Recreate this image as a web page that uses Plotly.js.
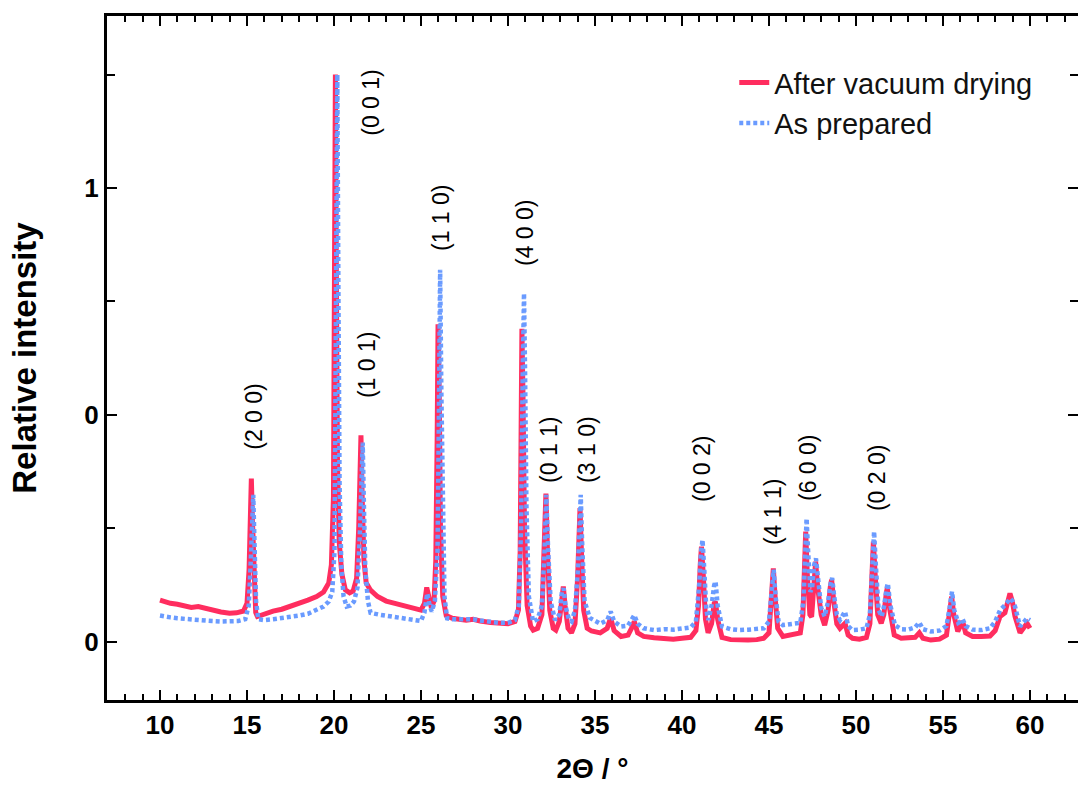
<!DOCTYPE html>
<html>
<head>
<meta charset="utf-8">
<script src="https://cdn.plot.ly/plotly-3.0.1.min.js"></script>
<style>html,body{margin:0;padding:0;background:#fff;}#chart{width:1078px;height:790px;}</style>
</head>
<body>
<div id="chart"></div>
<script>
// After vacuum drying
const xDried = [10.0,10.3,10.6,11.0,11.4,11.8,12.2,12.7,13.1,13.5,14.0,14.4,14.8,15.0,15.12,15.2,15.25,15.32,15.4,15.5,15.6,16.0,16.5,17.0,17.5,18.0,18.5,19.0,19.4,19.7,19.85,19.97,20.03,20.08,20.13,20.2,20.3,20.45,20.65,20.9,21.1,21.3,21.42,21.5,21.55,21.62,21.72,21.85,22.1,22.5,23.0,23.5,24.0,24.5,25.0,25.2,25.33,25.45,25.6,25.75,25.85,25.93,25.98,26.05,26.12,26.25,26.45,26.8,27.2,27.6,28.0,28.4,29.0,29.5,30.0,30.4,30.6,30.7,30.76,30.8,30.86,30.95,31.1,31.3,31.45,31.7,31.95,32.08,32.18,32.27,32.4,32.6,32.75,32.95,33.1,33.18,33.28,33.45,33.65,33.85,34.0,34.1,34.14,34.22,34.35,34.55,34.8,35.3,35.7,35.9,36.1,36.5,36.9,37.1,37.26,37.45,37.8,38.4,39.0,39.5,40.0,40.5,40.8,40.95,41.05,41.12,41.22,41.35,41.5,41.7,41.85,41.92,42.05,42.3,42.8,43.3,43.8,44.3,44.7,45.0,45.15,45.25,45.35,45.5,45.8,46.3,46.8,46.95,47.05,47.11,47.2,47.35,47.45,47.58,47.68,47.8,48.0,48.2,48.4,48.52,48.6,48.72,48.9,49.08,49.25,49.37,49.55,49.8,50.2,50.6,50.8,50.92,51.0,51.1,51.25,51.45,51.6,51.75,51.8,51.95,52.2,52.6,53.0,53.4,53.64,53.85,54.3,54.8,55.2,55.38,55.5,55.62,55.85,56.0,56.13,56.3,56.7,57.2,57.7,58.0,58.28,58.56,58.75,58.85,58.98,59.14,59.43,59.65,59.83,60.0];
const yDried = [0.092,0.088,0.085,0.083,0.080,0.076,0.078,0.073,0.068,0.066,0.063,0.064,0.068,0.085,0.16,0.30,0.36,0.26,0.12,0.065,0.056,0.062,0.068,0.072,0.078,0.086,0.092,0.100,0.110,0.130,0.17,0.32,0.8,1.25,0.85,0.40,0.22,0.15,0.115,0.108,0.112,0.14,0.25,0.44,0.455,0.32,0.18,0.13,0.114,0.10,0.090,0.085,0.080,0.076,0.070,0.085,0.12,0.10,0.075,0.09,0.18,0.45,0.70,0.55,0.25,0.10,0.058,0.052,0.050,0.048,0.050,0.046,0.043,0.041,0.040,0.045,0.07,0.2,0.5,0.69,0.55,0.25,0.08,0.035,0.026,0.03,0.06,0.18,0.327,0.2,0.07,0.03,0.026,0.045,0.1,0.122,0.08,0.03,0.02,0.04,0.14,0.28,0.295,0.2,0.07,0.03,0.024,0.02,0.03,0.053,0.025,0.012,0.015,0.03,0.045,0.02,0.012,0.009,0.007,0.006,0.008,0.01,0.025,0.08,0.17,0.21,0.15,0.05,0.02,0.04,0.085,0.089,0.05,0.01,0.005,0.004,0.004,0.005,0.008,0.02,0.1,0.162,0.1,0.03,0.012,0.015,0.02,0.06,0.18,0.243,0.15,0.06,0.055,0.15,0.177,0.12,0.06,0.037,0.07,0.12,0.137,0.09,0.04,0.03,0.038,0.041,0.015,0.008,0.006,0.01,0.04,0.15,0.221,0.15,0.06,0.041,0.06,0.11,0.118,0.07,0.015,0.008,0.008,0.01,0.02,0.008,0.004,0.006,0.015,0.06,0.10,0.06,0.023,0.035,0.045,0.02,0.012,0.012,0.013,0.025,0.056,0.064,0.09,0.107,0.09,0.056,0.02,0.03,0.041,0.03];

// As prepared
const xPrepared = [10.0,10.3,10.6,11.0,11.5,12.0,12.5,13.0,13.5,14.0,14.5,14.9,15.1,15.22,15.3,15.36,15.43,15.52,15.65,16.0,16.5,17.0,17.5,18.0,18.5,19.0,19.4,19.7,19.9,20.03,20.1,20.19,20.25,20.32,20.42,20.55,20.73,20.95,21.15,21.35,21.5,21.6,21.65,21.72,21.8,21.95,22.1,22.6,23.0,23.5,24.0,24.5,25.0,25.2,25.36,25.5,25.62,25.8,25.95,26.03,26.1,26.17,26.25,26.35,26.5,26.8,27.2,27.6,28.0,28.4,29.0,29.5,30.0,30.4,30.62,30.75,30.85,30.92,30.98,31.06,31.2,31.44,31.7,31.95,32.1,32.2,32.3,32.45,32.7,32.95,33.1,33.2,33.3,33.5,33.66,33.85,34.02,34.12,34.18,34.26,34.4,34.7,35.0,35.3,35.7,35.9,36.1,36.5,36.9,37.1,37.26,37.45,37.8,38.4,39.0,39.5,40.0,40.5,40.8,40.98,41.1,41.18,41.28,41.4,41.52,41.7,41.85,41.93,42.05,42.3,42.8,43.3,43.8,44.3,44.7,45.0,45.15,45.27,45.38,45.55,45.8,46.3,46.8,46.98,47.08,47.16,47.25,47.38,47.48,47.6,47.7,47.82,48.0,48.2,48.4,48.55,48.63,48.75,48.9,49.08,49.25,49.37,49.55,49.8,50.2,50.6,50.8,50.95,51.04,51.14,51.3,51.48,51.62,51.77,51.83,51.98,52.24,52.6,53.0,53.4,53.64,53.85,54.3,54.8,55.2,55.38,55.52,55.65,55.88,56.0,56.13,56.3,56.7,57.2,57.7,58.0,58.28,58.56,58.75,58.88,59.0,59.14,59.43,59.65,59.83,60.0];
const yPrepared = [0.058,0.055,0.054,0.052,0.05,0.049,0.048,0.046,0.045,0.045,0.046,0.05,0.08,0.18,0.29,0.324,0.22,0.09,0.05,0.048,0.05,0.052,0.054,0.058,0.062,0.07,0.078,0.089,0.11,0.2,0.55,1.25,0.8,0.35,0.17,0.10,0.078,0.08,0.089,0.12,0.25,0.42,0.439,0.3,0.16,0.09,0.064,0.06,0.058,0.056,0.052,0.05,0.046,0.065,0.107,0.08,0.067,0.09,0.2,0.5,0.82,0.55,0.25,0.1,0.052,0.05,0.05,0.051,0.05,0.047,0.044,0.042,0.042,0.048,0.08,0.25,0.6,0.768,0.6,0.3,0.1,0.045,0.05,0.08,0.2,0.324,0.21,0.09,0.048,0.06,0.11,0.118,0.08,0.05,0.045,0.07,0.16,0.3,0.324,0.22,0.09,0.053,0.045,0.04,0.048,0.067,0.045,0.034,0.036,0.048,0.059,0.04,0.03,0.026,0.028,0.027,0.03,0.032,0.045,0.12,0.2,0.225,0.16,0.07,0.048,0.08,0.125,0.133,0.08,0.034,0.028,0.026,0.027,0.028,0.03,0.045,0.11,0.159,0.1,0.045,0.037,0.04,0.042,0.09,0.2,0.272,0.2,0.11,0.12,0.17,0.184,0.13,0.075,0.056,0.09,0.13,0.141,0.1,0.06,0.048,0.06,0.067,0.035,0.026,0.027,0.03,0.06,0.18,0.243,0.17,0.07,0.056,0.08,0.12,0.129,0.08,0.037,0.028,0.027,0.032,0.043,0.028,0.023,0.025,0.035,0.075,0.111,0.07,0.042,0.045,0.05,0.035,0.027,0.026,0.03,0.045,0.07,0.081,0.09,0.096,0.09,0.078,0.034,0.045,0.052,0.048];

// Reflection labels
const hklText = ['(2 0 0)','(0 0 1)','(1 0 1)','(1 1 0)','(4 0 0)','(0 1 1)','(3 1 0)','(0 0 2)','(4 1 1)','(6 0 0)','(0 2 0)'];
const hklX = [15.40,22.13,21.90,26.15,30.98,32.36,34.54,41.15,45.23,47.24,51.21];
const hklY = [0.496,1.188,0.610,0.934,0.901,0.423,0.423,0.381,0.286,0.383,0.361];

// Axis ticks
const yTickVals = [0, 0.5, 1];
const yTickText = ['0', '0', '1'];
const yMinorVals = [0.25, 0.75, 1.25];

const FONT = 'Liberation Sans, Arial, Helvetica, sans-serif';

const traces = [
  {x: xDried, y: yDried, type: 'scatter', mode: 'lines', name: 'After vacuum drying',
   line: {color: '#ff2d5f', width: 5}},
  {x: xPrepared, y: yPrepared, type: 'scatter', mode: 'lines', name: 'As prepared',
   line: {color: '#6a9bff', width: 4.5, dash: '4px,3px'}}
];

const annotations = hklText.map((t, i) => ({
  x: hklX[i], y: hklY[i], xref: 'x', yref: 'y', text: t, showarrow: false,
  textangle: -90, xanchor: 'center', yanchor: 'middle',
  font: {family: FONT, size: 23, color: '#000'}
}));

const layout = {
  width: 1078, height: 790,
  margin: {l: 107, r: 0, t: 16, b: 90},
  paper_bgcolor: '#fff', plot_bgcolor: '#fff',
  showlegend: true,
  legend: {x: 0.646, y: 0.94, xanchor: 'left', yanchor: 'top', bgcolor: 'rgba(0,0,0,0)',
           font: {family: FONT, size: 29, color: '#111'}},
  xaxis: {
    range: [6.954, 62.76], tick0: 0, dtick: 5, ticks: 'inside', ticklen: 10, tickwidth: 2,
    tickcolor: '#000', showline: true, linecolor: '#000', linewidth: 3, mirror: 'allticks',
    showgrid: false, zeroline: false,
    minor: {dtick: 1, ticks: 'inside', ticklen: 6, tickwidth: 2, tickcolor: '#000', showgrid: false},
    tickfont: {family: FONT, size: 26, color: '#000', weight: 'bold'},
    title: {text: '2Θ / °', font: {family: FONT, size: 28, color: '#000', weight: 'bold'}, standoff: 20}
  },
  yaxis: {
    range: [-0.128, 1.379], tickmode: 'array', tickvals: yTickVals, ticktext: yTickText,
    ticks: 'inside', ticklen: 10, tickwidth: 2, tickcolor: '#000',
    showline: true, linecolor: '#000', linewidth: 3, mirror: 'ticks',
    showgrid: false, zeroline: false,
    minor: {tickmode: 'array', tickvals: yMinorVals, ticks: 'inside', ticklen: 8, tickwidth: 2, tickcolor: '#000', showgrid: false},
    tickfont: {family: FONT, size: 26, color: '#000', weight: 'bold'},
    title: {text: 'Relative intensity', font: {family: FONT, size: 33, color: '#000', weight: 'bold'}, standoff: 38}
  },
  annotations: annotations
};

Plotly.newPlot('chart', traces, layout, {staticPlot: true, displayModeBar: false});
</script>
</body>
</html>
